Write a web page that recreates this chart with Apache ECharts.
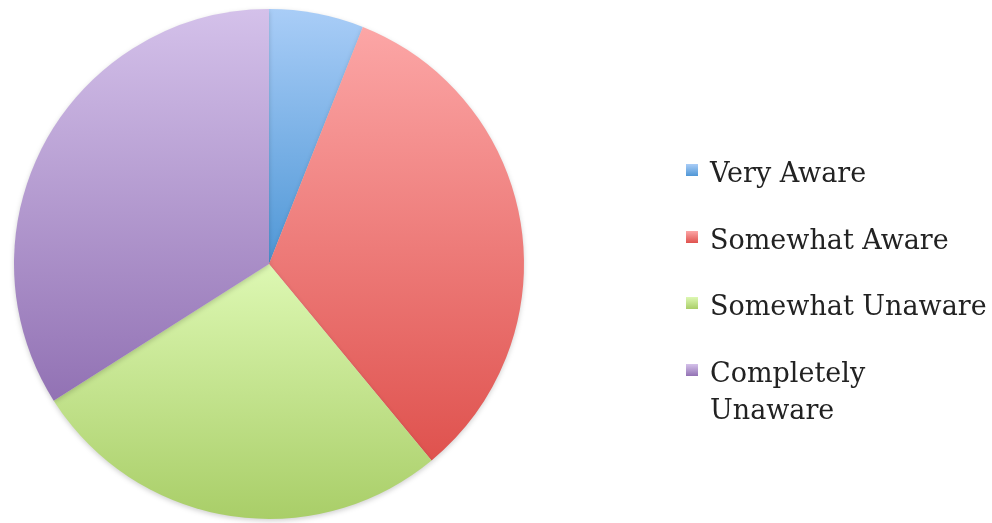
<!DOCTYPE html>
<html>
<head>
<meta charset="utf-8">
<script src="https://cdn.jsdelivr.net/npm/echarts@6/dist/echarts.min.js"></script>
<style>
  html, body { margin: 0; padding: 0; background: #fff; }
  #chart { width: 992px; height: 523px; }
</style>
</head>
<body>
<div id="chart"></div>
<script>
// Awareness survey: share of respondents per answer (percent)
const categories = ['Very Aware', 'Somewhat Aware', 'Somewhat Unaware', 'Completely Unaware'];
const legendLabels = ['Very Aware', 'Somewhat Aware', 'Somewhat Unaware', 'Completely\nUnaware'];
const values = [6, 33, 27, 34];

// Each slice is shaded light at its top to darker at its bottom
const topColors = ['#a9cdf7', '#fca6a6', '#ddf8b3', '#d4c1ea'];
const bottomColors = ['#4f97d6', '#df524e', '#a9ce68', '#9272b4'];

function shade(i) {
  return new echarts.graphic.LinearGradient(0, 0, 0, 1, [
    { offset: 0, color: topColors[i] },
    { offset: 1, color: bottomColors[i] }
  ]);
}

const chart = echarts.init(document.getElementById('chart'), null, { renderer: 'canvas' });

const legendX = 686;
const legendY = [170, 237, 303, 370];
const legendFont = '27px "DejaVu Serif"';

const legendGraphics = [];
categories.forEach(function (name, i) {
  legendGraphics.push({
    type: 'rect',
    left: legendX, top: legendY[i] - 6,
    shape: { width: 12, height: 12 },
    style: { fill: shade(i) },
    silent: true
  });
  legendGraphics.push({
    type: 'text',
    left: legendX + 24, top: legendY[i] - 14,
    style: {
      text: legendLabels[i],
      font: legendFont,
      fill: '#222',
      lineHeight: 37
    },
    silent: true
  });
});

chart.setOption({
  backgroundColor: '#ffffff',
  animation: false,
  graphic: legendGraphics,
  series: [{
    type: 'pie',
    center: [269, 264],
    radius: 255,
    startAngle: 90,
    clockwise: true,
    label: { show: false },
    labelLine: { show: false },
    emphasis: { disabled: true },
    itemStyle: {
      borderWidth: 0,
      shadowBlur: 5,
      shadowColor: 'rgba(0,0,0,0.18)',
      shadowOffsetY: 2
    },
    data: categories.map(function (name, i) {
      return { name: name, value: values[i], itemStyle: { color: shade(i) } };
    })
  }]
});
</script>
</body>
</html>
